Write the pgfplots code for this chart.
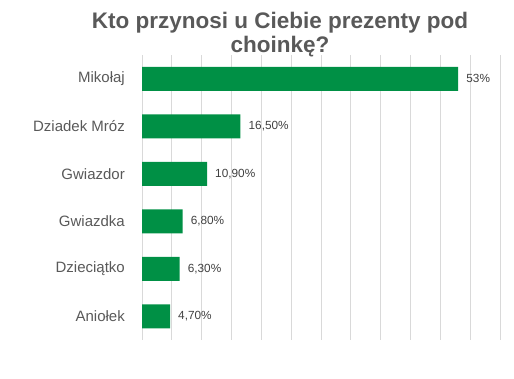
\documentclass[border=0pt]{standalone}
\usepackage{pgfplots}
\pgfplotsset{compat=1.18}
\usepackage{fontspec}
\setmainfont{Liberation Sans}
\definecolor{bargreen}{HTML}{009045}
\definecolor{titlegray}{HTML}{595959}
\definecolor{labgray}{HTML}{595959}
\definecolor{valgray}{HTML}{404040}
\definecolor{gridgray}{HTML}{D9D9D9}
\begin{document}
\begin{tikzpicture}
\path[use as bounding box] (0pt,0pt) rectangle (514pt,378pt);
\node[anchor=base, font=\bfseries\fontsize{22.5}{24}\selectfont, text=titlegray] at (280pt,349pt) {Kto przynosi u Ciebie prezenty pod};
\node[anchor=base, font=\bfseries\fontsize{22.5}{24}\selectfont, text=titlegray] at (280pt,325pt) {choinkę?};
\begin{axis}[
  at={(142pt,38pt)}, anchor=south west,
  scale only axis, width=358pt, height=285pt,
  xbar, bar width=24pt, bar shift=0pt,
  xmin=0, xmax=60, ymin=-0.5, ymax=5.5,
  y dir=reverse,
  xtick={0,5,...,60}, xticklabels={},
  xmajorgrids, grid style={gridgray, line width=0.9pt},
  ytick={0,1,2,3,4,5},
  yticklabels={Mikołaj,Dziadek Mróz,Gwiazdor,Gwiazdka,Dzieciątko,Aniołek},
  yticklabel style={font=\fontsize{15}{17}\selectfont, text=labgray, inner sep=0pt, anchor=east, xshift=-17pt},
  major tick length=0pt,
  tick style={draw=none},
  axis line style={draw=none},
  point meta=explicit symbolic,
  nodes near coords,
  nodes near coords style={font=\fontsize{11.8}{13}\selectfont, text=valgray, anchor=west, inner sep=0pt, xshift=8pt},
]
\addplot[fill=bargreen, draw=none] coordinates {
  (53,0) [{53\%}]
  (16.5,1) [{16,50\%}]
  (10.9,2) [{10,90\%}]
  (6.8,3) [{6,80\%}]
  (6.3,4) [{6,30\%}]
  (4.7,5) [{4,70\%}]
};
\end{axis}
\end{tikzpicture}
\end{document}
